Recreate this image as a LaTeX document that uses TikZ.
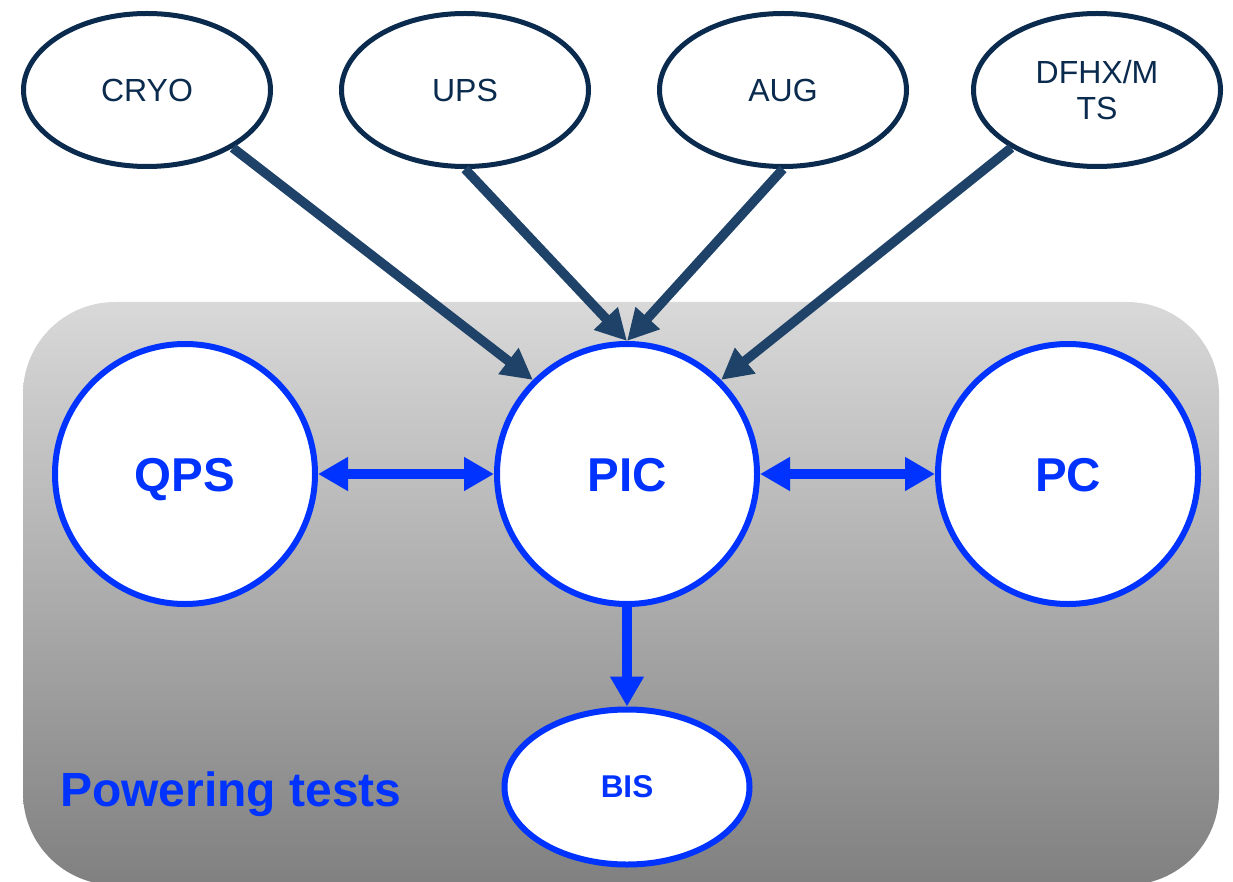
\documentclass[tikz,border=0pt]{standalone}
\usepackage{fontspec}
\setmainfont{Liberation Sans}
\usetikzlibrary{shapes.geometric,arrows.meta}
\definecolor{navyline}{RGB}{10,42,78}
\definecolor{navyarrow}{RGB}{30,66,104}
\definecolor{myblue}{RGB}{0,51,255}
\tikzset{
  topnode/.style={ellipse, draw=navyline, line width=5pt, fill=white, inner sep=0pt,
    minimum width=247pt, minimum height=153pt, text=navyline, align=center,
    font=\fontsize{32}{36}\selectfont},
  bignode/.style={circle, draw=myblue, line width=6pt, fill=white, inner sep=0pt,
    minimum size=260pt, text=myblue, text height=34pt, text depth=0pt,
    font=\bfseries\fontsize{47.5}{50}\selectfont},
  bisnode/.style={ellipse, draw=myblue, line width=6pt, fill=white, inner sep=0pt,
    minimum width=245pt, minimum height=155pt, text=myblue, font=\bfseries\fontsize{31.5}{36}\selectfont},
  inarrow/.style={draw=navyarrow, line width=9.5pt, -{Triangle[length=31pt,width=31pt]}},
  bluearrow/.style={draw=myblue, line width=10pt},
}
\begin{document}
\begin{tikzpicture}[x=1pt,y=-1pt]
\useasboundingbox (0,0) rectangle (1233,882);
\path[rounded corners=92pt, top color=black!15!white, middle color={rgb,255:red,185;green,185;blue,185}, bottom color={rgb,255:red,128;green,128;blue,128}]
  (23,302) rectangle (1219,885);
\node[topnode] (cryo) at (147,90) {CRYO};
\node[topnode] (ups) at (465,90) {UPS};
\node[topnode] (aug) at (783,90) {AUG};
\node[topnode] (dfhx) at (1097,90) {DFHX/M\\TS};
\node[bignode] (qps) at (185,474) {QPS};
\node[bignode] (pic) at (627,474) {PIC};
\node[bignode] (pc) at (1068,474) {PC};
\node[bisnode] (bis) at (627,787) {BIS};
\node[anchor=base west, text=myblue, font=\bfseries\fontsize{48}{50}\selectfont, inner sep=0pt] (label) at (60,806) {Powering tests};
\draw[inarrow] (cryo.-34) -- (pic.135);
\draw[inarrow] (ups.south) -- (pic.north);
\draw[inarrow] (aug.south) -- (pic.north);
\draw[inarrow] (dfhx.-146) -- (pic.45);
\draw[bluearrow, {Triangle[length=30pt,width=32pt]}-{Triangle[length=30pt,width=32pt]}] (qps) -- (pic);
\draw[bluearrow, {Triangle[length=30pt,width=32pt]}-{Triangle[length=30pt,width=32pt]}] (pic) -- (pc);
\draw[bluearrow, -{Triangle[length=30pt,width=32pt]}] (pic) -- (bis);
\end{tikzpicture}
\end{document}
